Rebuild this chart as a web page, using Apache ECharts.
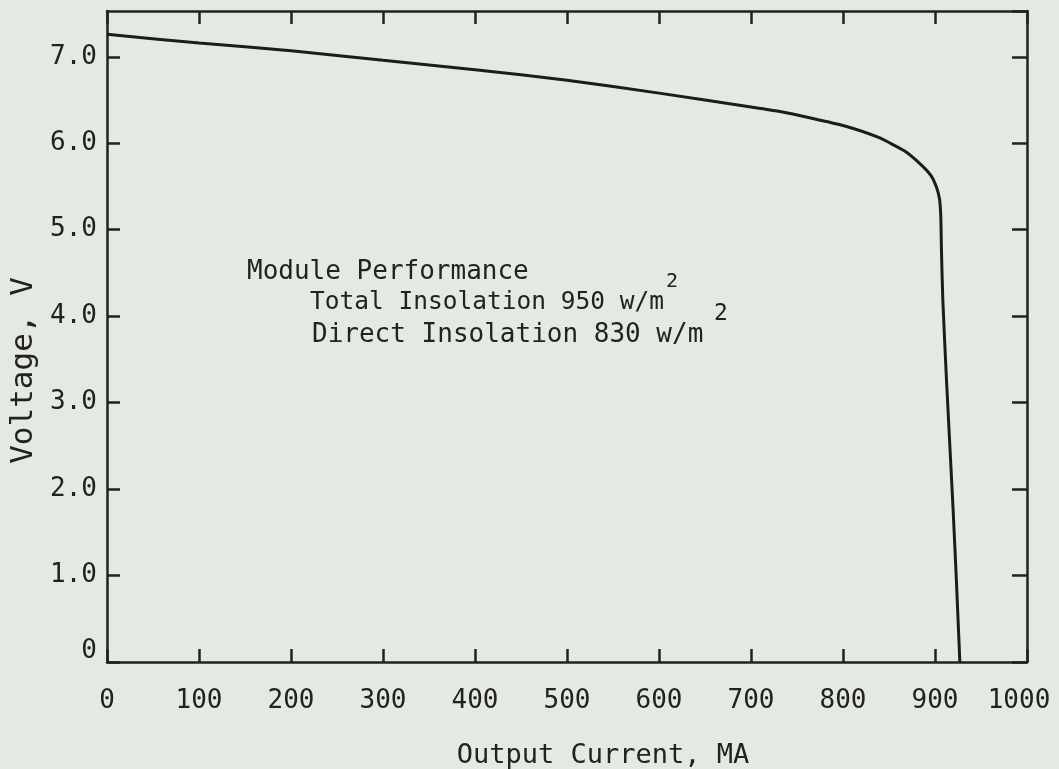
<!DOCTYPE html>
<html>
<head>
<meta charset="utf-8">
<title>Module Performance</title>
<script src="https://cdn.jsdelivr.net/npm/echarts@6/dist/echarts.min.js"></script>
<style>
  html, body { margin: 0; padding: 0; background: #e4e9e2; }
  #chart { width: 1059px; height: 769px; }
</style>
</head>
<body>
<div id="chart"></div>
<script>
// I-V characteristic of the module: output current (mA) vs. voltage (V)
const currentMA = [0, 100, 200, 300, 400, 500, 600, 700, 730, 766, 802, 838, 867, 885, 896, 902, 905, 906.3, 907, 908.5, 912.5, 919.7, 923.3, 927];
const voltageV  = [7.26, 7.16, 7.07, 6.96, 6.85, 6.73, 6.58, 6.42, 6.37, 6.29, 6.20, 6.07, 5.91, 5.75, 5.62, 5.48, 5.35, 5.15, 4.77, 4.19, 3.26, 1.76, 0.93, 0];

const xTicks = [0, 100, 200, 300, 400, 500, 600, 700, 800, 900, 1000];
const yTicks = [0, 1, 2, 3, 4, 5, 6, 7];

const xTitle = 'Output Current, MA';
const yTitle = 'Voltage, V';
const noteLines = ['Module Performance', 'Total Insolation 950 w/m', 'Direct Insolation 830 w/m'];
const noteSup = '2';

const ink = '#222222';
const mono = '"DejaVu Sans Mono", "Liberation Mono", monospace';

const chart = echarts.init(document.getElementById('chart'), null, { renderer: 'canvas' });

const points = currentMA.map((c, i) => [c, voltageV[i]]);

const axisLine = { show: true, onZero: false, lineStyle: { color: ink, width: 2.5 } };

chart.setOption({
  backgroundColor: '#e4e9e2',
  animation: false,
  grid: { left: 107, right: 32, top: 11, bottom: 107, containLabel: false, outerBoundsMode: 'none' },
  xAxis: [
    {
      type: 'value', position: 'bottom', min: 0, max: 1000, interval: 100,
      axisLine,
      axisTick: { show: true, inside: true, length: 13, lineStyle: { color: ink, width: 2.5 } },
      splitLine: { show: false },
      axisLabel: {
        margin: 26, color: ink, fontFamily: mono, fontSize: 26,
        formatter: v => {
          if (!xTicks.includes(v)) return '';
          return v === 1000 ? '{e|1000}' : String(v);
        },
        rich: { e: { fontFamily: mono, fontSize: 26, color: ink, padding: [0, 16, 0, 0] } }
      },
      name: xTitle, nameLocation: 'middle', nameGap: 80,
      nameTextStyle: { color: ink, fontFamily: mono, fontSize: 27, padding: [0, 0, 0, 72] }
    },
    {
      type: 'value', position: 'top', min: 0, max: 1000, interval: 100,
      axisLine,
      axisTick: { show: true, inside: true, length: 13, lineStyle: { color: ink, width: 2.5 } },
      axisLabel: { show: false },
      splitLine: { show: false }
    }
  ],
  yAxis: [
    {
      type: 'value', position: 'left', min: 0, max: 7.53, interval: 1,
      axisLine,
      axisTick: { show: true, inside: true, length: 13, lineStyle: { color: ink, width: 2.5 } },
      splitLine: { show: false },
      axisLabel: {
        margin: 10, color: ink, fontFamily: mono, fontSize: 26,
        showMaxLabel: false,
        formatter: v => {
          if (!yTicks.includes(v)) return '';
          return v === 0 ? '{z|0}' : v.toFixed(1);
        },
        rich: { z: { fontFamily: mono, fontSize: 26, color: ink, padding: [0, 0, 22, 0] } }
      },
      name: yTitle, nameLocation: 'middle', nameGap: 66, nameRotate: 90,
      nameTextStyle: { color: ink, fontFamily: mono, fontSize: 31, padding: [0, 68, 0, 0] }
    },
    {
      type: 'value', position: 'right', min: 0, max: 7.53, interval: 1,
      axisLine,
      axisTick: { show: true, inside: true, length: 15, lineStyle: { color: ink, width: 2.5 } },
      axisLabel: { show: false },
      splitLine: { show: false }
    }
  ],
  series: [
    {
      type: 'line', xAxisIndex: 0, yAxisIndex: 0,
      data: points, showSymbol: false, smooth: 0.2,
      lineStyle: { color: '#1c1c1c', width: 3 },
      z: 3
    }
  ],
  // annotation block inside the plot
  graphic: [
    { type: 'text', x: 247, y: 272, style: { text: noteLines[0], font: '26px ' + mono, fill: ink, verticalAlign: 'middle' } },
    { type: 'text', x: 310, y: 303, style: { text: noteLines[1], font: '24.5px ' + mono, fill: ink, verticalAlign: 'middle' } },
    { type: 'text', x: 666, y: 282, style: { text: noteSup, font: '20px ' + mono, fill: ink, verticalAlign: 'middle' } },
    { type: 'text', x: 312, y: 335, style: { text: noteLines[2], font: '26px ' + mono, fill: ink, verticalAlign: 'middle' } },
    { type: 'text', x: 714, y: 314, style: { text: noteSup, font: '23px ' + mono, fill: ink, verticalAlign: 'middle' } }
  ]
});
</script>
</body>
</html>
